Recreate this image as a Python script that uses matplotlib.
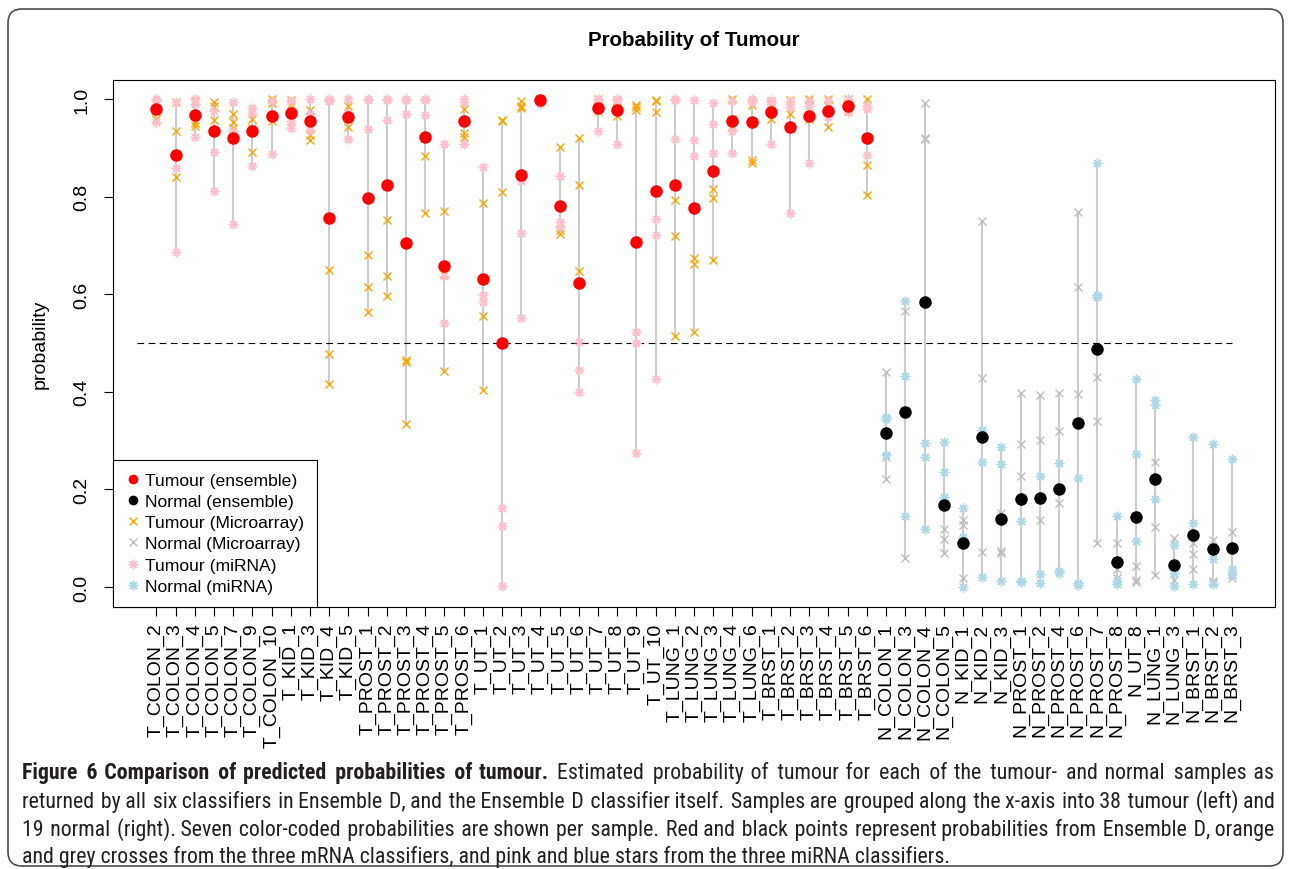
import os
import numpy as np
import matplotlib
matplotlib.use("Agg")
import matplotlib.pyplot as plt
from matplotlib import font_manager as fm
from matplotlib.font_manager import FontProperties
from matplotlib.ft2font import FT2Font
from matplotlib.lines import Line2D
from matplotlib.patches import FancyBboxPatch

# ---------------------------------------------------------------- data
samples = [
    "T_COLON_2", "T_COLON_3", "T_COLON_4", "T_COLON_5", "T_COLON_7", "T_COLON_9", "T_COLON_10",
    "T_KID_1", "T_KID_3", "T_KID_4", "T_KID_5",
    "T_PROST_1", "T_PROST_2", "T_PROST_3", "T_PROST_4", "T_PROST_5", "T_PROST_6",
    "T_UT_1", "T_UT_2", "T_UT_3", "T_UT_4", "T_UT_5", "T_UT_6", "T_UT_7", "T_UT_8", "T_UT_9", "T_UT_10",
    "T_LUNG_1", "T_LUNG_2", "T_LUNG_3", "T_LUNG_4", "T_LUNG_6",
    "T_BRST_1", "T_BRST_2", "T_BRST_3", "T_BRST_4", "T_BRST_5", "T_BRST_6",
    "N_COLON_1", "N_COLON_3", "N_COLON_4", "N_COLON_5",
    "N_KID_1", "N_KID_2", "N_KID_3",
    "N_PROST_1", "N_PROST_2", "N_PROST_4", "N_PROST_6", "N_PROST_7", "N_PROST_8",
    "N_UT_8", "N_LUNG_1", "N_LUNG_3", "N_BRST_1", "N_BRST_2", "N_BRST_3",
]
n_tumour = 38

ensemble = [
    0.979, 0.885, 0.967, 0.934, 0.921, 0.934, 0.966, 0.972, 0.954, 0.756,
    0.963, 0.798, 0.823, 0.704, 0.922, 0.658, 0.954, 0.631, 0.501, 0.845,
    0.997, 0.780, 0.623, 0.982, 0.977, 0.708, 0.811, 0.823, 0.776, 0.852,
    0.954, 0.952, 0.974, 0.942, 0.966, 0.976, 0.986, 0.920,
    0.315, 0.359, 0.585, 0.167, 0.090, 0.308, 0.140, 0.180, 0.182, 0.201,
    0.336, 0.487, 0.052, 0.143, 0.222, 0.045, 0.107, 0.078, 0.080,
]

microarray_1 = [
    0.990, 0.994, 0.995, 0.994, 0.970, 0.960, 1.000, 0.999, 0.978, 0.650,
    0.986, 0.681, 0.753, 0.466, 0.920, 0.771, 0.980, 0.786, 0.958, 0.995,
    1.000, 0.902, 0.920, 1.000, 0.998, 0.988, 0.999, 0.794, 0.674, 0.816,
    1.000, 0.988, 0.995, 0.997, 1.000, 1.000, 1.000, 1.000,
    0.440, 0.566, 0.991, 0.118, 0.137, 0.751, 0.152, 0.397, 0.393, 0.398,
    0.769, 0.431, 0.090, 0.043, 0.256, 0.101, 0.090, 0.097, 0.113,
]
microarray_2 = [
    0.975, 0.935, 0.950, 0.985, 0.952, 0.940, 0.992, 0.990, 0.927, 0.478,
    0.960, 0.614, 0.638, 0.462, 0.883, 0.641, 0.930, 0.556, 0.954, 0.986,
    0.999, 0.731, 0.823, 0.990, 0.995, 0.984, 0.995, 0.720, 0.661, 0.798,
    0.960, 0.876, 0.990, 0.969, 0.986, 0.985, 0.990, 0.864,
    0.266, 0.362, 0.920, 0.098, 0.127, 0.429, 0.073, 0.294, 0.302, 0.320,
    0.615, 0.341, 0.036, 0.014, 0.122, 0.040, 0.068, 0.012, 0.024,
]
microarray_3 = [
    0.959, 0.841, 0.945, 0.956, 0.940, 0.892, 0.955, 0.955, 0.915, 0.417,
    0.942, 0.563, 0.596, 0.333, 0.766, 0.442, 0.922, 0.404, 0.809, 0.982,
    0.998, 0.724, 0.648, 0.975, 0.965, 0.978, 0.973, 0.514, 0.523, 0.670,
    0.945, 0.868, 0.960, 0.940, 0.960, 0.942, 0.975, 0.804,
    0.221, 0.059, 0.918, 0.069, 0.019, 0.071, 0.069, 0.228, 0.137, 0.173,
    0.395, 0.090, 0.019, 0.010, 0.025, 0.014, 0.036, 0.009, 0.019,
]

mirna_1 = [
    1.000, 0.994, 1.000, 0.975, 0.993, 0.982, 0.995, 0.995, 1.000, 1.000,
    1.000, 1.000, 1.000, 1.000, 1.000, 0.907, 1.000, 0.861, 0.161, 0.833,
    1.000, 0.842, 0.502, 1.000, 1.000, 0.523, 0.754, 1.000, 0.998, 0.991,
    0.995, 1.000, 0.998, 0.996, 0.995, 0.995, 1.000, 0.986,
    0.348, 0.587, 0.296, 0.298, 0.162, 0.322, 0.286, 0.135, 0.228, 0.255,
    0.223, 0.869, 0.145, 0.426, 0.383, 0.087, 0.308, 0.293, 0.262,
]
mirna_2 = [
    0.995, 0.859, 0.990, 0.892, 0.935, 0.972, 0.965, 0.955, 0.970, 0.998,
    0.972, 0.997, 0.998, 0.998, 0.999, 0.638, 0.993, 0.598, 0.125, 0.725,
    0.995, 0.747, 0.445, 0.995, 0.997, 0.500, 0.722, 0.998, 0.916, 0.949,
    0.935, 0.997, 0.994, 0.984, 0.985, 0.970, 0.978, 0.979,
    0.344, 0.433, 0.266, 0.235, 0.102, 0.256, 0.253, 0.012, 0.026, 0.033,
    0.009, 0.598, 0.012, 0.273, 0.372, 0.028, 0.132, 0.057, 0.036,
]
mirna_3 = [
    0.952, 0.686, 0.923, 0.812, 0.744, 0.862, 0.887, 0.940, 0.937, 0.995,
    0.918, 0.939, 0.958, 0.970, 0.968, 0.542, 0.907, 0.585, 0.002, 0.551,
    0.990, 0.738, 0.399, 0.934, 0.907, 0.275, 0.426, 0.918, 0.884, 0.889,
    0.889, 0.993, 0.908, 0.766, 0.868, 0.963, 0.973, 0.886,
    0.270, 0.145, 0.118, 0.185, 0.000, 0.021, 0.012, 0.010, 0.009, 0.029,
    0.005, 0.594, 0.007, 0.094, 0.180, 0.003, 0.007, 0.007, 0.026,
]

y_ticks = [0.0, 0.2, 0.4, 0.6, 0.8, 1.0]
y_tick_labels = ["0.0", "0.2", "0.4", "0.6", "0.8", "1.0"]
legend_labels = ["Tumour (ensemble)", "Normal (ensemble)", "Tumour (Microarray)",
                 "Normal (Microarray)", "Tumour (miRNA)", "Normal (miRNA)"]
title = "Probability of Tumour"
caption_bold = "Figure 6 Comparison of predicted probabilities of tumour."
caption_lines = [
    "Estimated probability of tumour for each of the tumour- and normal samples as",
    "returned by all six classifiers in Ensemble D, and the Ensemble D classifier itself. "
    "Samples are grouped along the x-axis into 38 tumour (left) and",
    "19 normal (right). Seven color-coded probabilities are shown per sample. "
    "Red and black points represent probabilities from Ensemble D, orange",
    "and grey crosses from the three mRNA classifiers, and pink and blue stars "
    "from the three miRNA classifiers.",
]

# ---------------------------------------------------------------- style
plt.rcParams['font.family'] = ['Liberation Sans', 'DejaVu Sans']

W, H, DPI = 1290, 870, 100
fig = plt.figure(figsize=(W / DPI, H / DPI), dpi=DPI)


def px_rect(x0, y0, x1, y1):
    """Pixel box (origin top-left) -> figure-fraction rect."""
    return [x0 / W, 1 - y1 / H, (x1 - x0) / W, (y1 - y0) / H]


ax = fig.add_axes(px_rect(113.3, 80.5, 1274.8, 607.5))

x = np.arange(1, len(samples) + 1)
micro = np.array([microarray_1, microarray_2, microarray_3])
mirna = np.array([mirna_1, mirna_2, mirna_3])
ens = np.array(ensemble)
stack = np.vstack([micro, mirna, ens[None, :]])
tum = x <= n_tumour
nor = ~tum

RED, BLACK = '#FF0000', '#000000'
ORANGE, GREY = '#FFA500', '#BEBEBE'
PINK, LBLUE = '#FFC0CB', '#ADD8E6'
STAR = (8, 2, 0)

# range of the seven probabilities per sample
ax.vlines(x, stack.min(axis=0), stack.max(axis=0), color='#CCCCCC', lw=1.5, zorder=1)

# 0.5 decision threshold
ax.hlines(0.5, 0, len(samples), colors='black', lw=0.8, linestyles=(0, (6, 4)), zorder=2)

for row in micro:
    ax.plot(x[tum], row[tum], ls='none', marker='x', ms=5.5, mew=1.0, color=ORANGE, zorder=3)
    ax.plot(x[nor], row[nor], ls='none', marker='x', ms=5.5, mew=1.0, color=GREY, zorder=3)
for row in mirna:
    ax.plot(x[tum], row[tum], ls='none', marker=STAR, ms=7, mew=1.0, color=PINK, zorder=4)
    ax.plot(x[nor], row[nor], ls='none', marker=STAR, ms=7, mew=1.0, color=LBLUE, zorder=4)
ax.plot(x[tum], ens[tum], ls='none', marker='o', ms=9, mew=0, color=RED, zorder=5)
ax.plot(x[nor], ens[nor], ls='none', marker='o', ms=9, mew=0, color=BLACK, zorder=5)

ax.set_xlim(1 - 0.04 * (len(samples) - 1), len(samples) + 0.04 * (len(samples) - 1))
ax.set_ylim(-0.04, 1.04)

ax.set_xticks(x)
ax.set_xticklabels(samples, rotation=90, ha='center', va='top', fontsize=14)
ax.set_yticks(y_ticks)
ax.set_yticklabels(y_tick_labels, rotation=90, va='center', fontsize=14)
ax.tick_params(axis='both', direction='out', length=6.5, width=0.8, color='black')
ax.tick_params(axis='x', pad=5)
ax.tick_params(axis='y', pad=10)
for sp in ax.spines.values():
    sp.set_linewidth(0.8)
    sp.set_color('black')

handles = [
    Line2D([], [], ls='none', marker='o', ms=7, mew=0, color=RED),
    Line2D([], [], ls='none', marker='o', ms=7, mew=0, color=BLACK),
    Line2D([], [], ls='none', marker='x', ms=5.5, mew=1.0, color=ORANGE),
    Line2D([], [], ls='none', marker='x', ms=5.5, mew=1.0, color=GREY),
    Line2D([], [], ls='none', marker=STAR, ms=7, mew=1.0, color=PINK),
    Line2D([], [], ls='none', marker=STAR, ms=7, mew=1.0, color=LBLUE),
]
leg = ax.legend(handles, legend_labels, loc='lower left', bbox_to_anchor=(0, 0),
                borderaxespad=0, fontsize=12.6, frameon=True, fancybox=False,
                edgecolor='black', framealpha=1, handlelength=0.8,
                handletextpad=0.3, borderpad=0.72, labelspacing=0.34)
leg.get_frame().set_linewidth(0.8)
leg.set_zorder(10)

fig.text(694 / W, 1 - 40 / H, title, ha='center', va='center',
         fontsize=14.8, fontweight='bold')
fig.text(40 / W, 1 - 344 / H, "probability", rotation=90, ha='center', va='center',
         fontsize=14)

# ---------------------------------------------------------------- caption


def _weight(v):
    if isinstance(v, (int, float)):
        return int(v)
    return fm.weight_dict.get(str(v).lower(), 400)


def caption_fonts():
    prefs = ['liberationsansnarrow', 'robotocondensed', 'opensanscondensed',
             'opensans_condensed', 'notosans-condensed', 'dejavusanscondensed']
    entries = fm.fontManager.ttflist
    for p in prefs:
        cands = [f for f in entries
                 if p in os.path.basename(f.fname).lower().replace(' ', '')
                 and f.style == 'normal']
        reg = [f for f in cands if _weight(f.weight) == 400]
        bold = [f for f in cands if _weight(f.weight) == 700]
        if reg and bold:
            return FontProperties(fname=reg[0].fname), FontProperties(fname=bold[0].fname)
    return (FontProperties(family='Liberation Sans'),
            FontProperties(family='Liberation Sans', weight='bold'))


fp_reg, fp_bold = caption_fonts()
fig.canvas.draw()
renderer = fig.canvas.get_renderer()


def tw(s, fp):
    return renderer.get_text_width_height_descent(s, fp, ismath=False)[0]


def sized(fp, s):
    f = fp.copy()
    f.set_size(s)
    return f


def filler_char(fp):
    """Narrowest space glyph the font really has, for fine word spacing."""
    ft = FT2Font(fm.findfont(fp))
    for ch in ('\u200a', '\u2009', '\u2006', ' '):
        if ft.get_char_index(ord(ch)) != 0:
            return ch
    return ' '


x_left, x_right = 22.0, 1275.0
last_right = 947.0
full = x_right - x_left
TXT = '#231F20'

words = [[(w, 'b') for w in caption_bold.split()] + [(w, 'r') for w in caption_lines[0].split()]]
words += [[(w, 'r') for w in ln.split()] for ln in caption_lines[1:]]

# common size: the unjustified last line sets it, the justified lines must
# keep at least a fair share of a space between words
size = 10.0 * (last_right - x_left) / tw(caption_lines[-1], sized(fp_reg, 10.0))
for _ in range(3):
    fonts = {'r': sized(fp_reg, size), 'b': sized(fp_bold, size)}
    sp = tw(' ', fonts['r'])
    for ln in words[:-1]:
        need = sum(tw(w, fonts[k]) for w, k in ln) + (len(ln) - 1) * 0.75 * sp
        if need > full:
            size *= full / need

fonts = {'r': sized(fp_reg, size), 'b': sized(fp_bold, size)}
fill = {k: filler_char(f) for k, f in fonts.items()}
fill_w = {k: tw(fill[k], f) for k, f in fonts.items()}

baselines = [779, 808, 836, 863]


def place_justified(ln, yb):
    widths = [tw(w, fonts[k]) for w, k in ln]
    gap = (full - sum(widths)) / (len(ln) - 1)
    chunks = []          # [text, fontkey, x_start]
    pos = x_left         # actual right end of the text placed so far
    for i, ((w, k), wd) in enumerate(zip(ln, widths)):
        target = x_left + sum(widths[:i]) + i * gap
        if i == 0:
            chunks.append([w, k, target])
            pos = target + wd
        elif k == chunks[-1][1]:
            n = max(1, int(round((target - pos) / fill_w[k])))
            chunks[-1][0] += fill[k] * n + w
            pos += n * fill_w[k] + wd
        else:
            chunks.append([w, k, target])
            pos = target + wd
    for text, k, xs in chunks:
        fig.text(xs / W, 1 - yb / H, text, fontproperties=fonts[k],
                 ha='left', va='baseline', color=TXT)


for ln, yb in zip(words[:-1], baselines[:-1]):
    place_justified(ln, yb)
fig.text(x_left / W, 1 - baselines[-1] / H, caption_lines[-1], fontproperties=fonts['r'],
         ha='left', va='baseline', color=TXT)

# outer rounded frame
frame = FancyBboxPatch((8 / DPI, (H - 867) / DPI), (1283 - 8) / DPI, (867 - 10) / DPI,
                       boxstyle='round,pad=0,rounding_size=0.14',
                       transform=fig.dpi_scale_trans, fill=False,
                       edgecolor='#4D4D4D', lw=1.2)
fig.patches.append(frame)

fig.savefig('out.png', dpi=DPI)
